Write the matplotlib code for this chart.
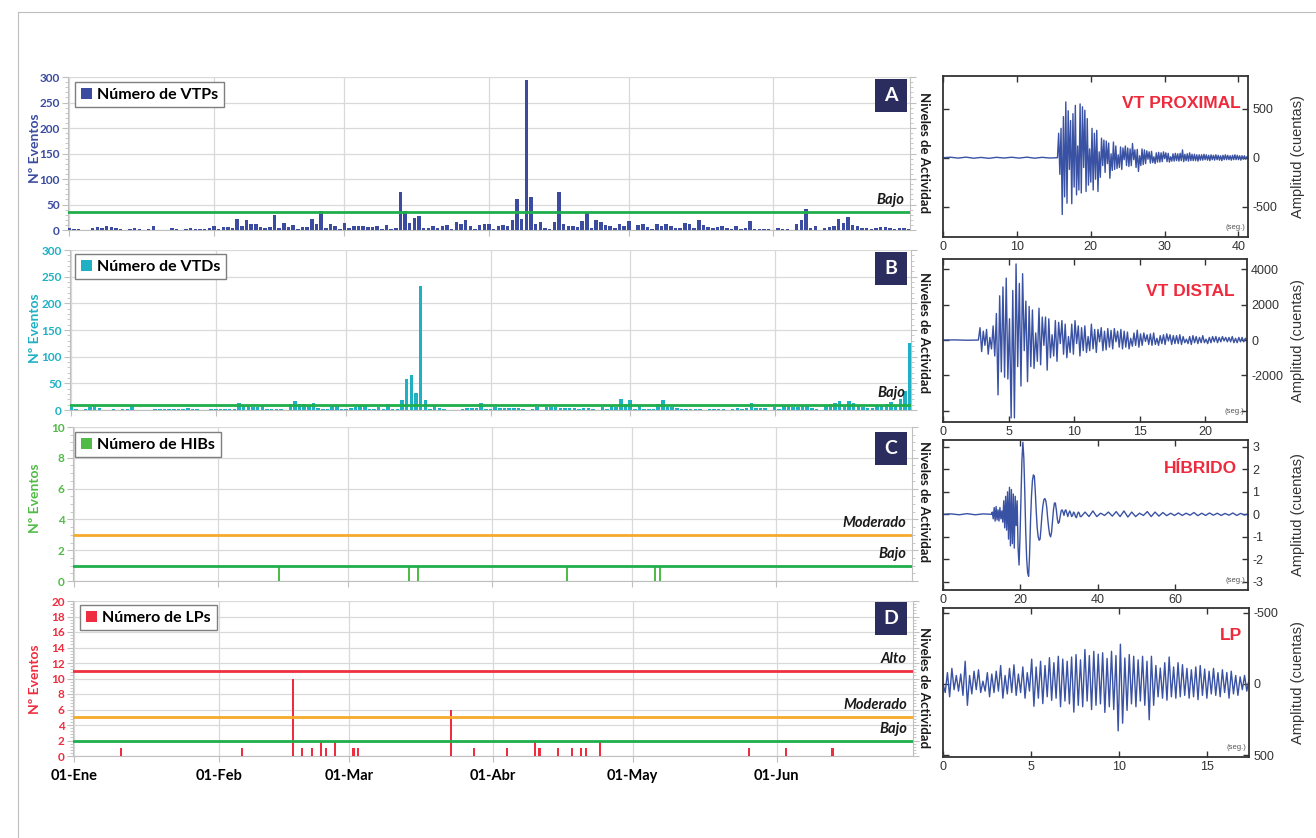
import numpy as np
import pandas as pd
import matplotlib
matplotlib.use("Agg")
import matplotlib.pyplot as plt
import matplotlib.dates as mdates
from matplotlib.ticker import MultipleLocator, AutoMinorLocator, FuncFormatter
from matplotlib.lines import Line2D
from matplotlib.patches import Rectangle

plt.rcParams['font.family'] = ['Lato', 'DejaVu Sans']

# ---------------- daily counts ----------------
days = pd.date_range("2019-01-01", "2019-06-30", freq="D")
month_names = ["Ene", "Feb", "Mar", "Abr", "May", "Jun"]

vtp = ([3, 2, 1, 0, 0, 3, 5, 4, 7, 5, 3, 1, 0, 1, 3, 1, 0, 1, 8, 0, 0, 0, 3, 1, 0, 1, 3, 1, 1, 2, 3]            # ene
       + [8, 1, 6, 6, 3, 22, 7, 20, 12, 11, 5, 4, 6, 29, 3, 14, 6, 9, 1, 5, 6, 22, 11, 38, 3, 12, 7, 1]       # feb
       + [13, 3, 7, 7, 7, 5, 5, 8, 1, 9, 1, 3, 75, 38, 13, 23, 28, 4, 4, 7, 4, 8, 9, 1, 16, 11, 20, 7, 1, 9, 12]  # mar
       + [11, 1, 8, 9, 8, 20, 60, 21, 294, 65, 11, 16, 4, 1, 16, 74, 11, 8, 8, 5, 17, 33, 3, 20, 16, 9, 8, 4, 12, 8]  # abr
       + [18, 0, 9, 12, 5, 1, 12, 7, 12, 7, 3, 4, 13, 12, 4, 19, 9, 5, 4, 6, 7, 3, 1, 7, 2, 3, 18, 1, 1, 1, 1]   # may
       + [0, 4, 2, 1, 0, 11, 19, 41, 3, 8, 0, 3, 5, 8, 22, 13, 26, 10, 7, 4, 3, 1, 3, 6, 6, 3, 1, 3, 4, 2])      # jun

vtd = ([5, 2, 0, 1, 5, 8, 4, 0, 0, 2, 0, 1, 1, 9, 0, 0, 0, 0, 1, 1, 1, 1, 2, 1, 1, 3, 2, 1, 0, 0, 1]
       + [1, 1, 1, 1, 2, 14, 9, 7, 6, 6, 8, 1, 1, 1, 1, 0, 11, 17, 12, 12, 7, 14, 3, 1, 1, 8, 8, 2]
       + [2, 3, 6, 8, 7, 2, 1, 5, 1, 12, 2, 2, 18, 59, 66, 31, 232, 18, 2, 8, 4, 1, 0, 0, 0, 2, 3, 3, 3, 14, 2]
       + [2, 6, 4, 4, 3, 4, 4, 2, 0, 1, 6, 0, 6, 6, 6, 4, 3, 3, 3, 2, 4, 3, 1, 0, 6, 1, 8, 6, 21, 12]
       + [19, 1, 9, 1, 1, 1, 12, 18, 6, 6, 3, 1, 2, 1, 2, 1, 0, 2, 1, 2, 1, 0, 2, 3, 2, 3, 14, 4, 4, 3, 0]
       + [6, 1, 8, 8, 6, 6, 8, 8, 3, 2, 0, 10, 11, 14, 16, 9, 17, 14, 9, 6, 4, 3, 9, 10, 11, 15, 9, 20, 35, 125])

hib_dates = pd.to_datetime(["2019-02-14", "2019-03-14", "2019-03-16", "2019-04-17", "2019-05-06", "2019-05-07"])
hib_counts = [1, 1, 1, 1, 1, 1]

lp_dates = pd.to_datetime(["2019-01-11", "2019-02-06", "2019-02-17", "2019-02-19", "2019-02-21", "2019-02-23",
                           "2019-02-24", "2019-02-26", "2019-03-02", "2019-03-03", "2019-03-23", "2019-03-28",
                           "2019-04-04", "2019-04-10", "2019-04-11", "2019-04-15", "2019-04-18", "2019-04-20",
                           "2019-04-21", "2019-04-24", "2019-05-26", "2019-06-03", "2019-06-13"])
lp_counts = [1, 1, 10, 1, 1, 2, 1, 2, 1, 1, 6, 1, 1, 2, 1, 1, 1, 1, 1, 2, 1, 1, 1]

# activity thresholds
vtp_levels, vtp_level_names = [35], ["Bajo"]
vtd_levels, vtd_level_names = [10], ["Bajo"]
hib_levels, hib_level_names = [3, 1], ["Moderado", "Bajo"]
lp_levels, lp_level_names = [11, 5, 2], ["Alto", "Moderado", "Bajo"]

# ---------------- example waveforms (amplitudes) ----------------
prox_onset, prox_end = 15.5, 41.3
prox_pre = [0, 5, -4, 6, -5, 3, -6, 4, -3, 5, -4, 6, -5, 4, -3, 0]
prox_amp = [250, -170, 300, -580, 420, -400,
            570, -465, 480, -120, 380, -470,
            450, -300, 535, -380, 120, -330,
            550, -360, 520, -100, 485, -345,
            400, -280, 90, -250, 300, -330,
            250, -220, 280, -345, 60, -200,
            200, -80, 180, -150, 170, -60,
            150, -210, 40, -130, 160, -120,
            120, -110, 30, -100, 110, -120,
            100, -20, 120, -80, 100, -90,
            90, -80, 145, -20, 80, -100,
            85, -140, 20, -80, 90, -70,
            80, -60, 70, -15, 60, -55,
            65, -50, 10, -60, 50, -45,
            55, -45, 50, -40, 60, -10,
            50, -40, 45, -45, 10, -35,
            40, -35, 45, -30, 40, -35,
            45, -30, 80, -40, 35, -30,
            40, -35, 50, -30, 35, -30,
            35, -30, 30, -35, 30, -25,
            30, -25, 35, -20, 30, -25,
            25, -30, 30, -20, 25, -25,
            30, -20, 25, -25, 20, -30,
            25, -20, 30, -20, 25, -20,
            20, -25, 25, -20, 30, -20,
            25, -20, 20, -25, 20, -15,
            20, -15, 10, 0]

dist_onset, dist_end = 2.7, 23.2
dist_pre = [0, 10, -10, 0]
dist_amp = [700, -650, 500, -300, 600, -800, 150, -500,
            800, -900, 1500, -3100, 2500, -1800, 3000, -2100,
            3500, -2200, 1200, -4400, 2800, -4400, 4300, -1500,
            3200, -2600, 3750, -600, 2200, -2350, 1900, -1500,
            1700, -1600, 400, -1200, 1800, -1400, 1300, -300,
            1300, -1700, 1200, -1000, 300, -900, 1100, -1200,
            1000, -200, 1100, -800, 900, -1000, 200, -700,
            900, -800, 1100, -200, 800, -900, 700, -600,
            800, -700, 200, -600, 900, -500, 600, -700,
            600, -100, 700, -600, 500, -550, 650, -400,
            550, -500, 650, -100, 500, -400, 600, -500,
            500, -400, 450, -500, 100, -350, 400, -300,
            560, -400, 350, -300, 400, -80, 300, -250,
            350, -300, 400, -250, 100, -300, 250, -200,
            300, -250, 350, -50, 300, -250, 250, -200,
            250, -200, 300, -250, 200, -150, 50, -200,
            200, -250, 250, -150, 200, -200, 150, -150,
            250, -150, 50, -200, 150, -150, 200, -100,
            200, -150, 150, -100, 200, -50, 150, -100,
            150, -100, 200, -150, 100, -150, 150, -100,
            150, -100, 100, -50]

hib_onset, hib_mid, hib_end = 12.5, 35.75, 79.0
hib_pre = [0, 0.02, -0.02, 0.03, -0.02, 0.02, 0]
hib_amp = [0.1, -0.2, 0.3, -0.3, 0.35, -0.25, 0.2, -0.3,
           0.3, -0.2, 0.15, -0.35, 0.6, -0.6, 0.8, -0.7,
           1.0, -1.1, 1.2, -1.4, 1.1, -1.3, 0.9, -1.5,
           0.8, -0.5, 0.6, -1.5, -2.25, -1.0, 0.8, 2.4,
           3.2, 2.5, 1.0, -0.8, -2.0, -2.6, -2.75, -1.8,
           -0.3, 0.8, 1.5, 1.75, 1.7, 1.0, 0.1, -0.6,
           -1.0, -1.15, -1.1, -0.6, 0.0, 0.4, 0.65, 0.7,
           0.6, 0.3, -0.2, -0.6, -0.9, -1.0, -0.8, -0.3,
           0.2, 0.5, 0.5, 0.2, -0.2, -0.4, -0.35, -0.1,
           0.15, 0.2, 0.1, -0.05, 0.15, 0.2, 0.05, -0.1,
           0.05, 0.15, 0.05, -0.1, -0.05, 0.1, 0.05, -0.1,
           -0.15, 0.0, 0.1, 0.05, -0.1, -0.1]
hib_coda = [0.1, -0.1, 0.15, -0.1, 0.05, -0.05, 0.1, -0.08, 0.12, -0.1, 0.15, -0.12, 0.1, -0.1,
            0.05, -0.05, 0.12, -0.1, 0.1, -0.08, 0.08, -0.06, 0.05, -0.05, 0.06, -0.05, 0.05, -0.04,
            0.08, -0.06, 0.05, -0.05, 0.06, -0.04, 0.05, -0.05, 0.04, -0.04, 0.06, -0.05, 0.04, -0.03, 0.02]

lp_start, lp_end = 0.0, 17.4
lp_amp = [0, 60, -80, 90, -110, 40, -60, 50,
          -70, 80, -160, 150, -60, 70, -90, 40,
          -100, 60, -20, 50, -80, 90, -70, 60,
          -90, 50, -130, 100, -60, 70, -110, 60,
          -135, 80, -70, 60, -120, 100, -80, 50,
          -175, 157, -120, 100, -160, 138, -130, 90,
          -185, 115, -150, 100, -195, 160, -175, 120,
          -160, 140, -190, 198, -207, 150, -170, 160,
          -243, 120, -200, 180, -230, 150, -210, 140,
          -220, 200, -180, 160, -230, 180, -200, 330,
          -280, 276, -183, 186, -207, 140, -195, 160,
          -170, 120, -195, 150, -160, 252, -195, 150,
          -130, 90, -112, 100, -150, 114, -190, 90,
          -120, 100, -150, 90, -136, 80, -110, 100,
          -100, 90, -120, 110, -130, 80, -105, 100,
          -90, 70, -110, 80, -80, 90, -100, 60,
          -81, 100, -90, 70, -60, 80, -50, 40,
          -60, 50, -30]

# ---------------- figure ----------------
W, H = 1316, 838
fig = plt.figure(figsize=(W / 100, H / 100), dpi=100)


def box(x0, y0, x1, y1):
    return [x0 / W, 1 - y1 / H, (x1 - x0) / W, (y1 - y0) / H]


grid_c = '#d9d9d9'
axis_c = '#bfbfbf'
green, orange, red = '#1fae4b', '#f6aa2a', '#ee3040'
navy = '#2b2d5e'

# thin frame of the page
fig.add_artist(Line2D([18 / W, 1], [1 - 12 / H, 1 - 12 / H], transform=fig.transFigure, color='#bdbdbd', lw=0.8))
fig.add_artist(Line2D([18 / W, 18 / W], [0, 1 - 12 / H], transform=fig.transFigure, color='#bdbdbd', lw=0.8))

xmin = mdates.date2num(days[0]) - 0.3
xmax = mdates.date2num(days[-1]) + 0.3


def month_fmt(v, pos):
    return "01-" + month_names[mdates.num2date(v).month - 1]


def count_panel(rect, x, y, width, color, label, ymax, step, minor, levels, names, lcolors,
                leg_xy, letter, badge_top, ylab_y, niv_y, last=False):
    ax = fig.add_axes(rect)
    ax.bar(x, y, width=width, color=color, label=label, zorder=3)
    ax.set_xlim(xmin, xmax)
    ax.set_ylim(0, ymax)
    ax.yaxis.set_major_locator(MultipleLocator(step))
    ax.yaxis.set_minor_locator(AutoMinorLocator(minor))
    ax.xaxis.set_major_locator(mdates.MonthLocator())
    ax.xaxis.set_major_formatter(FuncFormatter(month_fmt))
    ax.grid(True, which='major', color=grid_c, lw=0.9)
    ax.set_axisbelow(True)
    for s in ['left', 'right', 'bottom']:
        ax.spines[s].set_color(axis_c)
    ax.spines['top'].set_visible(False)
    ax.tick_params(axis='y', which='both', left=True, right=True, direction='out', color=axis_c,
                   labelcolor=color, labelsize=8.5, pad=2)
    ax.tick_params(axis='y', which='major', length=4)
    ax.tick_params(axis='y', which='minor', length=2.5)
    ax.tick_params(axis='x', length=4, color=axis_c, labelsize=10.5, labelbottom=last, pad=5)
    for t in ax.get_yticklabels():
        t.set_fontweight('bold')
    for t in ax.get_xticklabels():
        t.set_fontweight('bold')
    for lev, name, lc in zip(levels, names, lcolors):
        ax.axhline(lev, color=lc, lw=2, zorder=4)
        ax.annotate(name, xy=(1, lev), xycoords=('axes fraction', 'data'), xytext=(-6, 5),
                    textcoords='offset pixels', ha='right', va='bottom', fontsize=10.5,
                    style='italic', fontweight='bold', color='#1a1a1a')
    leg = ax.legend(loc='upper left', bbox_to_anchor=(leg_xy[0] / W, 1 - leg_xy[1] / H),
                    bbox_transform=fig.transFigure, borderaxespad=0, fancybox=False,
                    edgecolor='#7f7f7f', framealpha=1, handlelength=0.7, handleheight=0.7,
                    handletextpad=0.35, borderpad=0.35, prop=dict(weight='bold', size=11.5))
    leg.get_frame().set_linewidth(1.0)
    leg.set_zorder(6)
    fig.add_artist(Rectangle((875 / W, 1 - (badge_top + 33) / H), 32 / W, 33 / H,
                             transform=fig.transFigure, fc=navy, ec='none', zorder=7))
    fig.text(891 / W, 1 - (badge_top + 16.5) / H, letter, color='white', fontsize=14,
             fontweight='bold', ha='center', va='center', zorder=8)
    fig.text(35 / W, 1 - ylab_y / H, "Nº Eventos", rotation=90, color=color, fontsize=10,
             fontweight='bold', ha='center', va='center')
    fig.text(924 / W, 1 - niv_y / H, "Niveles de Actividad", rotation=270, color='#1a1a1a',
             fontsize=9.5, fontweight='bold', ha='center', va='center')
    return ax


count_panel(box(68, 77, 910, 230), days, vtp, 0.75, '#3b4ca0', "Número de VTPs", 300, 50, 5,
            vtp_levels, vtp_level_names, [green], (75, 82), "A", 79, 148, 153)
count_panel(box(70, 250, 911, 410), days, vtd, 0.75, '#1fb0c4', "Número de VTDs", 300, 50, 5,
            vtd_levels, vtd_level_names, [green], (75, 254), "B", 252, 328, 333)
count_panel(box(73, 427, 912, 581), hib_dates, hib_counts, 0.45, '#50bb46', "Número de HIBs", 10, 2, 4,
            hib_levels, hib_level_names, [orange, green], (75, 432), "C", 432, 498, 501)
count_panel(box(73, 601, 913, 756), lp_dates, lp_counts, 0.45, '#ee2d3f', "Número de LPs", 20, 2, 5,
            lp_levels, lp_level_names, [red, orange, green], (80, 605), "D", 602, 679, 687, last=True)

# ---------------- waveform panels ----------------
wave_c = '#3a52a3'
title_c = '#ee2a3c'


def wave_panel(rect, t, y, xlim, ylim, xticks, yticks, ylabels, title, title_px, invert=False):
    ax = fig.add_axes(rect)
    ax.plot(t, y, color=wave_c, lw=1.0)
    ax.set_xlim(*xlim)
    ax.set_ylim(*ylim)
    if invert:
        ax.invert_yaxis()
    ax.set_xticks(xticks)
    ax.set_yticks(yticks, labels=ylabels)
    ax.yaxis.tick_right()
    ax.tick_params(direction='in', top=True, bottom=True, left=True, right=True, length=4,
                   width=1, labelsize=9, colors='#333333', pad=3)
    for s in ax.spines.values():
        s.set_color('#333333')
        s.set_linewidth(1.3)
    for t_ in ax.get_xticklabels() + ax.get_yticklabels():
        t_.set_fontfamily('Liberation Sans')
    ax.text(0.99, 0.04, "(seg.)", transform=ax.transAxes, ha='right', va='bottom', fontsize=5.5,
            color='#555555', family='Liberation Sans')
    fig.text(title_px[0] / W, 1 - title_px[1] / H, title, ha='right', va='center', color=title_c,
             fontsize=12.5, fontweight='bold', family='Liberation Sans')
    y_mid = 1 - (rect[1] + rect[3] / 2)
    fig.text(1298 / W, 1 - y_mid, "Amplitud (cuentas)", rotation=90, ha='center', va='center',
             fontsize=10.5, color='#333333', family='Liberation Sans')
    return ax


def seg_times(t0, t1, n):
    # sample times after t0 up to t1
    return np.linspace(t0, t1, n + 1)[1:]


t_prox = np.concatenate([np.linspace(0, prox_onset, len(prox_pre)),
                         seg_times(prox_onset, prox_end, len(prox_amp))])
wave_panel(box(943, 76, 1248, 237), t_prox, prox_pre + prox_amp, (0, 41.3), (-810, 835),
           [0, 10, 20, 30, 40], [-500, 0, 500], ["-500", "0", "500"], "VT PROXIMAL", (1241, 103))

t_dist = np.concatenate([np.linspace(0, dist_onset, len(dist_pre)),
                         seg_times(dist_onset, dist_end, len(dist_amp))])
wave_panel(box(943, 259, 1247, 422), t_dist, dist_pre + dist_amp, (0, 23.2), (-4630, 4580),
           [0, 5, 10, 15, 20], [-4000, -2000, 0, 2000, 4000], ["", "-2000", "0", "2000", "4000"],
           "VT DISTAL", (1235, 291))

t_hib = np.concatenate([np.linspace(0, hib_onset, len(hib_pre)),
                        seg_times(hib_onset, hib_mid, len(hib_amp)),
                        seg_times(hib_mid, hib_end, len(hib_coda))])
wave_panel(box(943, 440, 1248, 590), t_hib, hib_pre + hib_amp + hib_coda, (0, 78.9), (-3.36, 3.3),
           [0, 20, 40, 60], [-3, -2, -1, 0, 1, 2, 3], ["-3", "-2", "-1", "0", "1", "2", "3"],
           "HÍBRIDO", (1237, 468))

t_lp = np.linspace(lp_start, lp_end, len(lp_amp))
wave_panel(box(943, 608, 1249, 757), t_lp, lp_amp, (0, 17.4), (-535, 514),
           [0, 5, 10, 15], [-500, 0, 500], ["-500", "0", "500"], "LP", (1242, 635), invert=True)

fig.savefig("out.png", dpi=100)
